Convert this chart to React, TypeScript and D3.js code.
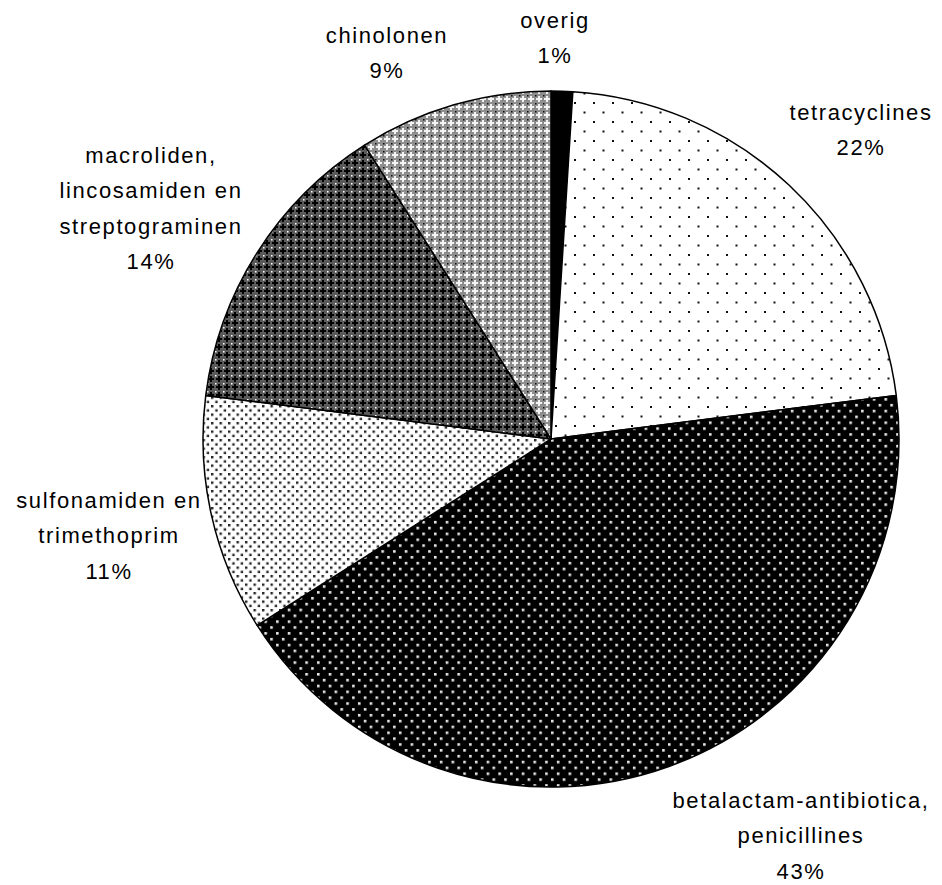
import React from "react";
import * as d3 from "d3";

const categories = [
  "overig",
  "tetracyclines",
  "betalactam-antibiotica,\npenicillines",
  "sulfonamiden en\ntrimethoprim",
  "macroliden,\nlincosamiden en\nstreptograminen",
  "chinolonen",
];
const values = [1, 22, 43, 11, 14, 9];
const patternIds = ["pOverig", "pTetra", "pBeta", "pSulfo", "pMacro", "pChino"];
// label layout (center x, first-line center y)
const labelX = [555, 861, 801, 109, 151, 387];
const labelY = [20, 112, 800, 500, 155, 35];

const W = 942;
const H = 885;
const CX = 551;
const CY = 439;
const R = 348;
const LINE = 35.5;

export default function App() {
  const pie = d3
    .pie<number>()
    .sort(null)
    .value((d) => d)
    .startAngle(0)
    .endAngle(2 * Math.PI);
  const arcs = pie(values);
  const arcGen = d3.arc<d3.PieArcDatum<number>>().innerRadius(0).outerRadius(R);
  const total = d3.sum(values);
  const fmt = (v: number) => `${Math.round((v / total) * 100)}%`;

  return (
    <svg
      width={W}
      height={H}
      style={{ position: "fixed", left: 0, top: 0, display: "block", background: "#fff" }}
      fontFamily="'Liberation Sans', Arial, sans-serif"
    >
      <defs>
        <pattern id="pOverig" width={4} height={4} patternUnits="userSpaceOnUse">
          <rect width={4} height={4} fill="#000" />
        </pattern>
        <pattern id="pTetra" width={19} height={19} patternUnits="userSpaceOnUse" x={4} y={5}>
          <rect width={19} height={19} fill="#fff" />
          <rect x={0} y={0} width={2} height={2} fill="#111" />
          <rect x={9.5} y={9.5} width={2} height={2} fill="#111" />
        </pattern>
        <pattern id="pBeta" width={11.7} height={11.7} patternUnits="userSpaceOnUse">
          <rect width={11.7} height={11.7} fill="#000" />
          <rect x={0} y={0} width={2.6} height={2.6} fill="#e8e8e8" />
          <rect x={5.85} y={5.85} width={2.6} height={2.6} fill="#e8e8e8" />
        </pattern>
        <pattern id="pSulfo" width={8.5} height={8.5} patternUnits="userSpaceOnUse">
          <rect width={8.5} height={8.5} fill="#fff" />
          <rect x={0} y={0} width={2.4} height={2.4} fill="#222" />
          <rect x={4.25} y={4.25} width={2.4} height={2.4} fill="#222" />
        </pattern>
        <pattern id="pMacro" width={8} height={8} patternUnits="userSpaceOnUse">
          <rect width={8} height={8} fill="#5a5a5a" />
          <rect x={1} y={3} width={6} height={2} fill="#000" />
          <rect x={3} y={1} width={2} height={6} fill="#000" />
          <rect x={0} y={0} width={1.5} height={1.5} fill="#fff" />
        </pattern>
        <pattern id="pChino" width={8} height={8} patternUnits="userSpaceOnUse">
          <rect width={8} height={8} fill="#8e8e8e" />
          <rect x={1} y={3} width={6} height={2} fill="#f4f4f4" />
          <rect x={3} y={1} width={2} height={6} fill="#f4f4f4" />
          <rect x={0} y={0} width={1.5} height={1.5} fill="#111" />
        </pattern>
      </defs>
      <g transform={`translate(${CX},${CY})`}>
        {arcs.map((a, i) => (
          <path
            key={i}
            d={arcGen(a) || ""}
            fill={`url(#${patternIds[i]})`}
            stroke="#000"
            strokeWidth={1.5}
            strokeLinejoin="round"
          />
        ))}
      </g>
      <g fontSize={22} letterSpacing={1.6} fill="#000" textAnchor="middle">
        {categories.map((c, i) => {
          const lines = [...c.split("\n"), fmt(values[i])];
          return (
            <text key={i} x={labelX[i]} y={labelY[i]}>
              {lines.map((ln, j) => (
                <tspan key={j} x={labelX[i]} y={labelY[i] + j * LINE} dy="0.35em">
                  {ln}
                </tspan>
              ))}
            </text>
          );
        })}
      </g>
    </svg>
  );
}
